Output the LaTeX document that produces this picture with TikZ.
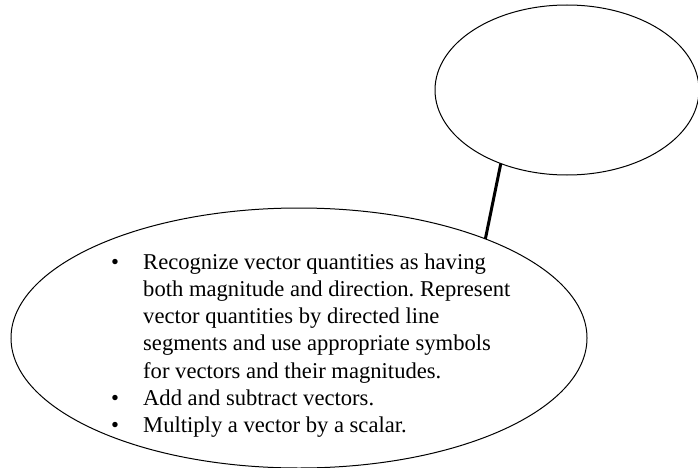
\documentclass[tikz,border=0pt]{standalone}
\usepackage{fontspec}
\setmainfont{Liberation Serif}
\usetikzlibrary{shapes.geometric}
\frenchspacing
\begin{document}
\begin{tikzpicture}[x=1pt,y=-1pt,
  bubble/.style={draw=black, line width=1pt, ellipse, inner sep=0pt, outer sep=0pt},
  link/.style={draw=black, line width=3pt},
  bullets/.style={anchor=base west, inner sep=0pt, font=\fontsize{22.6}{27.3}\selectfont}]
\useasboundingbox (0,0) rectangle (698,468);
\node[bubble, minimum width=264pt, minimum height=170pt] (t) at (567,90) {};
\node[bubble, minimum width=576pt, minimum height=260pt] (b) at (299,338) {};
\node[bullets] (txt) at (111,269) {\begin{tabular}[t]{@{}p{32pt}@{}l@{}}
\textbullet & Recognize vector quantities as having\\
 & both magnitude and direction. Represent\\
 & vector quantities by directed line\\
 & segments and use appropriate symbols\\
 & for vectors and their magnitudes.\\
\textbullet & Add and subtract vectors.\\
\textbullet & Multiply a vector by a scalar.
\end{tabular}};
\draw[link] (t.228) -- (b.28);
\end{tikzpicture}
\end{document}
